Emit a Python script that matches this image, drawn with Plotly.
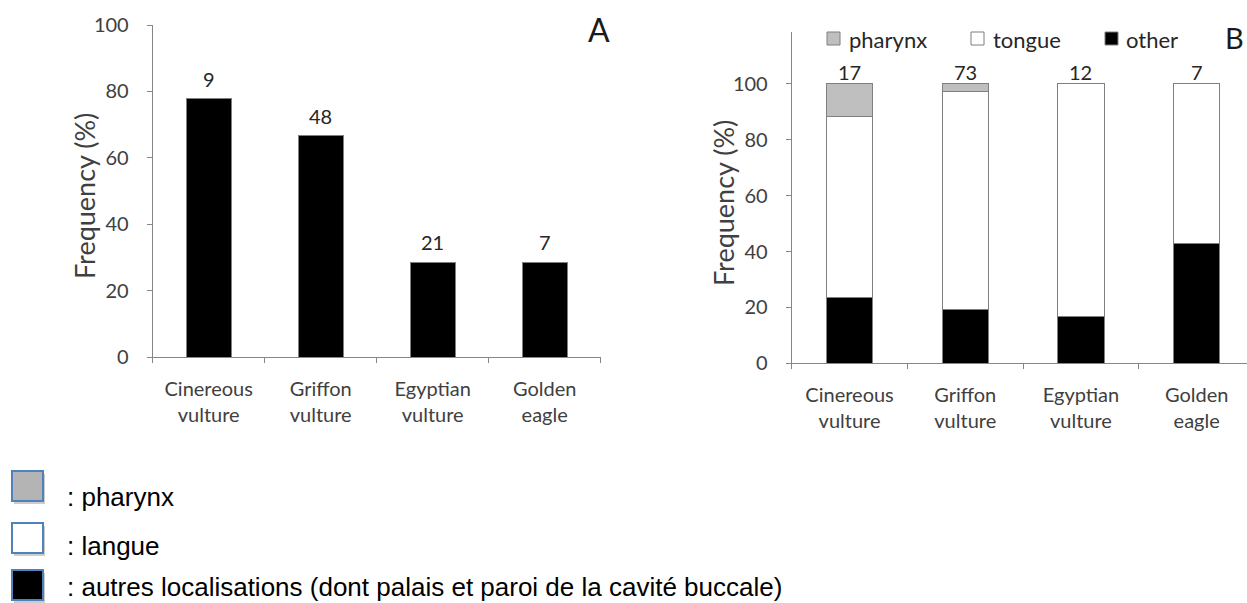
import plotly.graph_objects as go

# ---------------- data ----------------
species = ["Cinereous<br>vulture", "Griffon<br>vulture", "Egyptian<br>vulture", "Golden<br>eagle"]
freq_a = [77.8, 66.7, 28.6, 28.6]          # panel A, frequency (%)
n_a = [9, 48, 21, 7]                        # sample sizes above bars (A)
other_b = [23.5, 19.2, 16.7, 42.9]          # panel B, other (%)
tongue_b = [64.7, 78.1, 83.3, 57.1]         # panel B, tongue (%)
pharynx_b = [11.8, 2.7, 0.0, 0.0]           # panel B, pharynx (%)
n_b = [17, 73, 12, 7]                       # sample sizes above bars (B)
yticks = [0, 20, 40, 60, 80, 100]
legend_b = ["pharynx", "tongue", "other"]
legend_fr = [": pharynx", ": langue", ": autres localisations (dont palais et paroi de la cavité buccale)"]

# ---------------- styling ----------------
W, H = 1247, 603
FONT = "Lato"
AX = "#868686"
TXT = "#404040"
GREY = "#bfbfbf"


def px(x):
    return x / W


def py(y):
    return 1 - y / H


fig = go.Figure()

# Panel A
fig.add_trace(go.Bar(x=species, y=freq_a, width=0.4,
                     marker=dict(color="black", line=dict(color="#7f7f7f", width=1)),
                     xaxis="x", yaxis="y", showlegend=False, hoverinfo="skip"))

# Panel B (stacked)
for vals, col, name in [(other_b, "black", legend_b[2]),
                        (tongue_b, "white", legend_b[1]),
                        (pharynx_b, GREY, legend_b[0])]:
    fig.add_trace(go.Bar(x=species, y=vals, width=0.4, name=name,
                         marker=dict(color=col, line=dict(color="#808080", width=1)),
                         xaxis="x2", yaxis="y2", showlegend=False, hoverinfo="skip"))

axis_common = dict(showline=True, linecolor=AX, linewidth=1, ticks="outside", ticklen=5,
                   tickcolor=AX, showgrid=False, zeroline=False, automargin=False,
                   tickfont=dict(family=FONT, size=20, color=TXT))

fig.update_layout(
    width=W, height=H, autosize=False,
    margin=dict(l=0, r=0, t=0, b=0),
    paper_bgcolor="white", plot_bgcolor="white",
    barmode="stack",
    xaxis=dict(domain=[px(152.7), px(600.7)], anchor="y", type="category",
               range=[-0.5, 3.5], tickson="boundaries", ticklabelstandoff=14, **axis_common),
    yaxis=dict(domain=[py(357), py(25)], anchor="x", range=[0, 100], tickvals=yticks,
               ticklabelstandoff=14, **axis_common),
    xaxis2=dict(domain=[px(791.7), 1.0], anchor="y2", type="category",
                range=[-0.5, 3.435], tickson="boundaries", ticklabelstandoff=14, **axis_common),
    yaxis2=dict(domain=[py(363.3), py(31.7)], anchor="x2", range=[0, 118.7], tickvals=yticks,
                ticklabelstandoff=14, **axis_common),
)

ann = []
# sample sizes above bars
for s, v, n in zip(species, freq_a, n_a):
    ann.append(dict(x=s, y=v, xref="x", yref="y", text=str(n), showarrow=False,
                    xanchor="center", yanchor="middle", yshift=20,
                    font=dict(family=FONT, size=20, color="#262626")))
for s, a, b, c, n in zip(species, other_b, tongue_b, pharynx_b, n_b):
    ann.append(dict(x=s, y=a + b + c, xref="x2", yref="y2", text=str(n), showarrow=False,
                    xanchor="center", yanchor="middle", yshift=12,
                    font=dict(family=FONT, size=20, color="#262626")))

# axis titles
ann.append(dict(x=px(84), y=py(196), xref="paper", yref="paper", text="Frequency (%)",
                textangle=-90, showarrow=False, xanchor="center", yanchor="middle",
                font=dict(family=FONT, size=27, color=TXT)))
ann.append(dict(x=px(723), y=py(203), xref="paper", yref="paper", text="Frequency (%)",
                textangle=-90, showarrow=False, xanchor="center", yanchor="middle",
                font=dict(family=FONT, size=27, color=TXT)))

# panel letters
ann.append(dict(x=px(599), y=py(30), xref="paper", yref="paper", text="A", showarrow=False,
                xanchor="center", yanchor="middle", font=dict(family=FONT, size=32, color="#1a1a1a")))
ann.append(dict(x=px(1246), y=py(37), xref="paper", yref="paper", text="B", showarrow=False,
                xanchor="right", yanchor="middle", font=dict(family=FONT, size=29, color="#1a1a1a")))

shapes = []
# top legend of panel B
leg_pos = [(827, 847), (971, 991), (1105, 1124)]
leg_cols = [GREY, "white", "black"]
for (sx, tx), col, lab in zip(leg_pos, leg_cols, legend_b):
    shapes.append(dict(type="rect", xref="paper", yref="paper",
                       x0=px(sx), x1=px(sx + 13), y0=py(45), y1=py(32),
                       fillcolor=col, line=dict(color="#7f7f7f", width=1)))
    ann.append(dict(x=px(tx), y=py(39), xref="paper", yref="paper", text=lab, showarrow=False,
                    xanchor="left", yanchor="middle", font=dict(family=FONT, size=22, color="#262626")))

# bottom (French) legend
rows = [(471, 497), (523, 546), (570, 587)]
cols_fr = ["#b4b4b4", "white", "black"]
for (top, mid), col, lab in zip(rows, cols_fr, legend_fr):
    shapes.append(dict(type="rect", xref="paper", yref="paper",
                       x0=px(14), x1=px(45), y0=py(top + 33), y1=py(top + 3),
                       fillcolor="rgba(0,0,0,0.20)", line=dict(width=0), layer="below"))
    shapes.append(dict(type="rect", xref="paper", yref="paper",
                       x0=px(12), x1=px(43), y0=py(top + 30), y1=py(top),
                       fillcolor=col, line=dict(color="#4f81bd", width=2)))
    ann.append(dict(x=px(65), y=py(mid), xref="paper", yref="paper", text=lab, showarrow=False,
                    xanchor="left", yanchor="middle",
                    font=dict(family="Liberation Sans", size=26, color="black")))

fig.update_layout(annotations=ann, shapes=shapes)
fig.write_html("out.html", config={"displayModeBar": False},
               post_script="document.body.style.margin='0px';document.body.style.overflow='hidden';")
